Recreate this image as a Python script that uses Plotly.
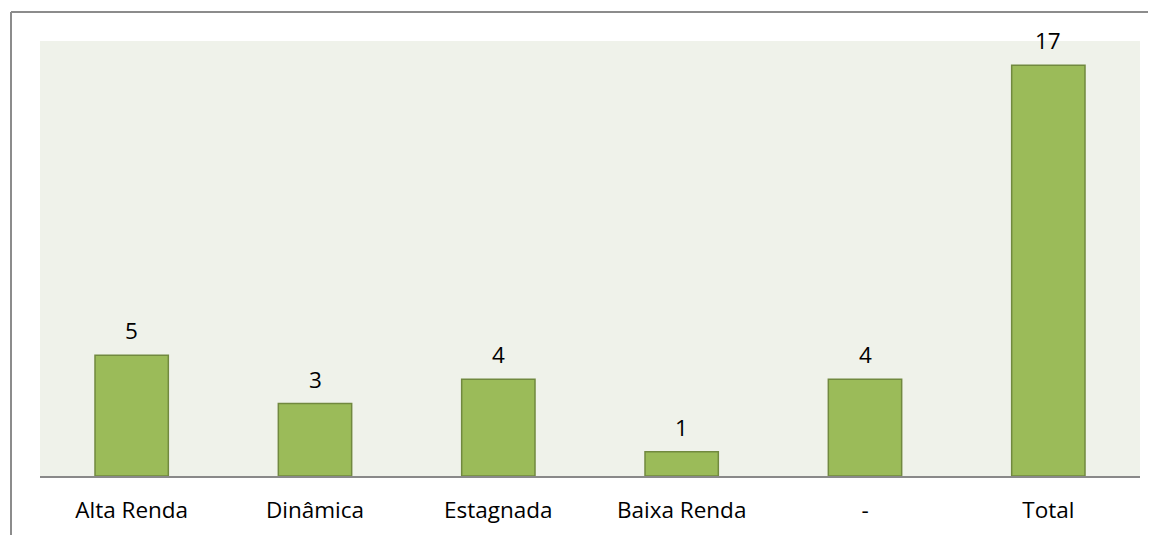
import plotly.graph_objects as go

categories = ["Alta Renda", "Dinâmica", "Estagnada", "Baixa Renda", "-", "Total"]
values = [5, 3, 4, 1, 4, 17]

OFF = 8  # page body margin
W, H = 1156 - OFF, 535 - OFF
L, R, T, B = 40 - OFF, 16, 41 - OFF, 59
pw, ph = W - L - R, H - T - B

def px_x(x):
    return (x - OFF - L) / pw

def px_y(y):
    return (H - B - (y - OFF)) / ph

FONT = "Open Sans"
FS = 22.5

fig = go.Figure(go.Bar(
    x=categories, y=values,
    marker=dict(color="#9BBB59", line=dict(color="#71893F", width=1.5)),
    cliponaxis=False,
))

for c, v in zip(categories, values):
    fig.add_annotation(x=c, y=v, text=str(v), showarrow=False,
                       xanchor="center", yanchor="bottom", yshift=7,
                       font=dict(family=FONT, size=FS, color="#000000"))

fig.update_layout(
    width=W, height=H,
    margin=dict(l=L, r=R, t=T, b=B),
    paper_bgcolor="#FFFFFF", plot_bgcolor="#EFF2EA",
    bargap=0.6, showlegend=False,
    font=dict(family=FONT, size=FS, color="#000000"),
    xaxis=dict(showline=True, linecolor="#898989", linewidth=2, ticks="",
               ticklabelstandoff=13, showgrid=False, automargin=False,
               tickfont=dict(family=FONT, size=FS, color="#000000")),
    yaxis=dict(range=[0, 18], visible=False, showgrid=False),
    shapes=[
        dict(type="line", xref="paper", yref="paper",
             x0=px_x(11), x1=px_x(1160), y0=px_y(12), y1=px_y(12),
             line=dict(color="#8C8C8C", width=2)),
        dict(type="line", xref="paper", yref="paper",
             x0=px_x(11), x1=px_x(11), y0=px_y(12), y1=px_y(540),
             line=dict(color="#8C8C8C", width=2)),
    ],
)

fig.write_html("out.html")
